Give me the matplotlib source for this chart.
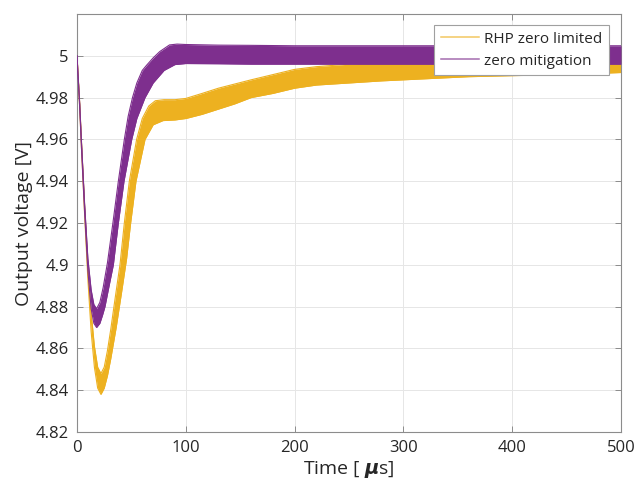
import matplotlib
matplotlib.use("Agg")
from matplotlib import pyplot as plt
import numpy as np

plt.rcParams["font.family"] = ["Open Sans", "DejaVu Sans"]
plt.rcParams["mathtext.fontset"] = "dejavusans"

# RHP zero limited: envelope of the ripple band (time in us, volts)
t_rhp_low = [0, 2.5, 4, 7, 10, 13, 16, 19, 22, 25, 28, 31, 36, 41, 45.6, 49.3,
             54.2, 62.5, 70, 79, 90, 100, 115, 130, 145, 160, 180, 200, 220,
             250, 280, 320, 360, 400, 450, 500]
rhp_low = [5.000, 4.975, 4.957, 4.924, 4.893, 4.868, 4.851, 4.841, 4.838, 4.841,
           4.847, 4.855, 4.870, 4.887, 4.903, 4.920, 4.940, 4.960, 4.967, 4.969,
           4.9693, 4.970, 4.972, 4.9745, 4.977, 4.980, 4.982, 4.9845, 4.986,
           4.987, 4.988, 4.989, 4.990, 4.9905, 4.991, 4.992]
t_rhp_high = [0, 2.5, 4, 7, 10, 13, 16, 19, 22, 25, 28, 31, 34.5, 39.5, 43.5,
              48.1, 54.8, 60, 66, 72, 80, 90, 100, 115, 130, 145, 160, 180, 200,
              220, 250, 280, 320, 360, 400, 450, 500]
rhp_high = [5.000, 4.977, 4.960, 4.928, 4.899, 4.877, 4.861, 4.851, 4.848, 4.851,
            4.859, 4.869, 4.882, 4.900, 4.920, 4.940, 4.960, 4.970, 4.976,
            4.9785, 4.979, 4.979, 4.9796, 4.982, 4.9845, 4.9865, 4.9885, 4.991,
            4.9935, 4.9948, 4.996, 4.997, 4.998, 4.9985, 4.999, 4.9995, 5.000]

# zero mitigation
t_mit_low = [0, 2.5, 4, 7, 10, 13, 15.5, 18, 21, 23.5, 25.7, 29.5, 33.4, 38,
             43.2, 50.3, 55, 62.5, 70, 80, 90, 100, 130, 160, 200, 250, 300,
             400, 500]
mit_low = [5.000, 4.975, 4.957, 4.925, 4.897, 4.879, 4.872, 4.870, 4.872, 4.876,
           4.880, 4.890, 4.900, 4.920, 4.940, 4.960, 4.970, 4.980, 4.987, 4.993,
           4.9958, 4.9963, 4.9962, 4.996, 4.996, 4.996, 4.996, 4.996, 4.996]
t_mit_high = [0, 2.5, 4, 7, 10, 13, 15.5, 18, 21, 24, 28, 33, 38, 43.5, 47, 51,
              55, 60, 64, 70, 76, 85, 92, 100, 130, 160, 200, 250, 300, 400, 500]
mit_high = [5.000, 4.977, 4.960, 4.929, 4.903, 4.888, 4.881, 4.879, 4.882, 4.889,
            4.901, 4.920, 4.940, 4.960, 4.971, 4.980, 4.987, 4.993, 4.9955,
            4.999, 5.002, 5.0052, 5.0056, 5.0054, 5.0051, 5.005, 5.0048, 5.0048,
            5.0048, 5.0048, 5.0048]

x_ticks = [0, 100, 200, 300, 400, 500]
y_ticks = [4.82, 4.84, 4.86, 4.88, 4.90, 4.92, 4.94, 4.96, 4.98, 5.00]
y_tick_labels = ["4.82", "4.84", "4.86", "4.88", "4.9", "4.92", "4.94", "4.96",
                 "4.98", "5"]

ORANGE = "#EDB120"
PURPLE = "#7E2F8E"


def band(ax, t_lo, lo, t_hi, hi, color, z):
    # fill between the two envelopes on a time base made of both lists
    times = sorted(set(t_lo) | set(t_hi))
    lo_i = np.interp(times, t_lo, lo)
    hi_i = np.interp(times, t_hi, hi)
    ax.fill_between(times, lo_i, hi_i, color=color, lw=0, zorder=z)
    ax.plot(t_lo, lo, color=color, lw=0.8, zorder=z)
    ax.plot(t_hi, hi, color=color, lw=0.8, zorder=z)


fig = plt.figure(figsize=(6.36, 4.86), dpi=100)
ax = fig.add_axes([77 / 636, 54 / 486, 544 / 636, 418 / 486])

band(ax, t_rhp_low, rhp_low, t_rhp_high, rhp_high, ORANGE, 2)
band(ax, t_mit_low, mit_low, t_mit_high, mit_high, PURPLE, 3)

# legend entries
h1, = ax.plot([], [], color=ORANGE, lw=1.1, alpha=0.7)
h2, = ax.plot([], [], color=PURPLE, lw=1.1, alpha=0.7)
leg = ax.legend([h1, h2], ["RHP zero limited", "zero mitigation"],
                loc="upper right", bbox_to_anchor=(0.978, 0.974),
                borderaxespad=0, fontsize=11, handlelength=2.5,
                handletextpad=0.3, labelspacing=0.45, borderpad=0.45,
                fancybox=False, framealpha=1, edgecolor="#a0a0a0")
leg.get_frame().set_linewidth(0.8)
leg.set_zorder(5)
for txt in leg.get_texts():
    txt.set_color("#262626")

ax.set_xlim(0, 500)
ax.set_ylim(4.82, 5.02)
ax.set_xticks(x_ticks)
ax.set_yticks(y_ticks)
ax.set_yticklabels(y_tick_labels)
ax.grid(True, color="#e6e6e6", lw=0.7)
ax.set_axisbelow(True)
for s in ax.spines.values():
    s.set_color("#8c8c8c")
    s.set_linewidth(0.8)
ax.tick_params(direction="in", top=True, right=True, length=4, width=0.7,
               color="#8c8c8c", labelsize=12, labelcolor="#262626", pad=6)

ax.set_xlabel(r"Time [ $\boldsymbol{\mu}$s]", fontsize=14, color="#262626",
              labelpad=2)
ax.set_ylabel("Output voltage [V]", fontsize=14, color="#262626", labelpad=2)

fig.savefig("out.png", dpi=100)
